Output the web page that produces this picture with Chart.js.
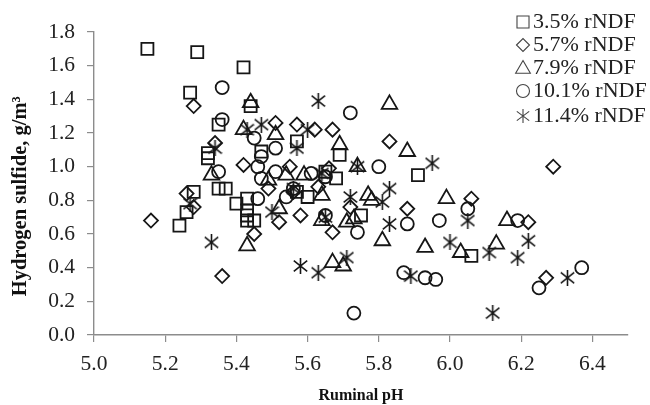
<!DOCTYPE html>
<html>
<head>
<meta charset="utf-8">
<style>
  html, body { margin: 0; background: #fff; }
</style>
<script src="https://cdn.jsdelivr.net/npm/chart.js@4/dist/chart.umd.js"></script>
</head>
<body>
<canvas id="chart" width="650" height="405"></canvas>
<script>
// values, as [ruminal pH] / [hydrogen sulfide]
const x_35 = [5.15,5.29,5.42,5.27,5.44,5.35,5.32,5.32,5.35,5.37,5.28,5.40,5.26,5.24,5.43,5.43,5.43,5.45,5.43,5.47,5.57,5.57,5.60,5.68,5.65,5.69,5.75,5.91,6.06];
const y_35 = [1.70,1.68,1.59,1.44,1.36,1.25,1.08,1.05,0.87,0.87,0.85,0.78,0.73,0.65,0.81,0.74,0.71,0.68,0.68,1.09,1.15,0.85,0.82,0.93,0.97,1.07,0.71,0.95,0.47];
const x_57 = [5.16,5.26,5.28,5.28,5.34,5.36,5.42,5.45,5.51,5.52,5.55,5.57,5.58,5.62,5.67,5.49,5.66,5.63,5.72,5.67,5.83,6.29,6.06,5.88,6.22,6.27,5.56];
const y_57 = [0.68,0.84,0.76,1.36,1.14,0.35,1.01,0.60,1.26,0.67,1.00,1.25,0.71,1.22,1.22,0.87,0.99,0.88,0.76,0.61,1.15,1.00,0.81,0.75,0.67,0.34,0.85];
const x_79 = [5.44,5.42,5.33,5.43,5.51,5.49,5.54,5.59,5.64,5.52,5.64,5.69,5.74,5.83,5.88,5.99,5.77,5.78,5.71,5.73,5.81,5.67,5.70,5.93,6.03,6.13,6.16];
const y_79 = [1.38,1.22,0.95,0.53,1.19,0.92,0.95,0.95,0.83,0.75,0.68,1.13,1.00,1.37,1.09,0.81,0.83,0.80,0.67,0.69,0.56,0.43,0.41,0.52,0.49,0.54,0.68];
const x_101 = [5.36,5.36,5.35,5.45,5.51,5.47,5.46,5.51,5.47,5.61,5.65,5.56,5.54,5.46,5.72,5.80,5.65,5.74,5.73,5.88,5.97,6.05,6.19,6.37,6.25,5.87,5.93,5.96];
const y_101 = [1.47,1.28,0.97,1.17,1.11,1.06,1.00,0.97,0.93,0.96,0.94,0.87,0.82,0.81,1.32,1.00,0.71,0.61,0.13,0.66,0.68,0.75,0.68,0.40,0.28,0.37,0.34,0.33];
const x_114 = [5.34,5.43,5.47,5.60,5.63,5.57,5.74,5.64,5.56,5.27,5.33,5.50,5.65,5.72,5.58,5.63,5.71,5.95,5.83,5.81,5.83,6.05,6.22,6.00,6.11,6.19,6.33,6.12,5.89];
const y_114 = [1.11,1.22,1.25,1.22,1.39,1.11,1.00,0.96,0.87,0.78,0.55,0.73,0.70,0.82,0.41,0.37,0.46,1.02,0.87,0.79,0.66,0.68,0.56,0.55,0.49,0.46,0.34,0.13,0.35];

const series_names = ['3.5% rNDF', '5.7% rNDF', '7.9% rNDF', '10.1% rNDF', '11.4% rNDF'];
const x_ticks = [5.0, 5.2, 5.4, 5.6, 5.8, 6.0, 6.2, 6.4];
const y_ticks = [0.0, 0.2, 0.4, 0.6, 0.8, 1.0, 1.2, 1.4, 1.6, 1.8];

const INK = '#161616';
const GREY = '#8c8c8c';
const SERIF = '"Liberation Serif", serif';

function pts(xs, ys){
  return xs.map((x, i) => ({ x: x, y: ys[i] }));
}

// six armed star like the excel marker, chart.js only has an eight armed one
function starSprite(w, h, lw, color){
  const c = document.createElement('canvas');
  c.width = w;
  c.height = h;
  const g = c.getContext('2d');
  g.strokeStyle = color;
  g.lineWidth = lw;
  g.beginPath();
  g.moveTo(w / 2, 0); g.lineTo(w / 2, h);
  g.moveTo(0.8, h * 0.17); g.lineTo(w - 0.8, h * 0.83);
  g.moveTo(w - 0.8, h * 0.17); g.lineTo(0.8, h * 0.83);
  g.stroke();
  return c;
}

function ds(label, data, style, r){
  return {
    label: label,
    data: data,
    showLine: false,
    pointStyle: style,
    pointRadius: r,
    pointHoverRadius: r,
    pointBorderColor: INK,
    pointBackgroundColor: 'transparent',
    pointBorderWidth: 1.8
  };
}

// legend sits above the plot area, so it is drawn here instead of with the built in box
const legendPlugin = {
  id: 'sideLegend',
  afterDraw(chart){
    const ctx = chart.ctx;
    const styles = [['rect', 8.5], ['rectRot', 6.5], ['triangle', 8.5], ['circle', 6.5], [starSprite(14, 14, 1.1, '#444'), 7]];
    const rows = [22, 45, 68, 91, 116];
    ctx.save();
    ctx.font = '22px ' + SERIF;
    ctx.textBaseline = 'middle';
    series_names.forEach((name, i) => {
      ctx.strokeStyle = '#444';
      ctx.fillStyle = 'transparent';
      ctx.lineWidth = 1.1;
      Chart.helpers.drawPoint(ctx, {
        pointStyle: styles[i][0],
        radius: styles[i][1],
        borderWidth: 1.1,
        rotation: 0
      }, 523, rows[i] + (i === 2 ? 1 : 0));
      ctx.fillStyle = '#222';
      ctx.fillText(name, 533, rows[i]);
    });
    ctx.restore();
  }
};

new Chart(document.getElementById('chart').getContext('2d'), {
  type: 'scatter',
  data: {
    datasets: [
      ds(series_names[0], pts(x_35, y_35), 'rect', 8.5),
      ds(series_names[1], pts(x_57, y_57), 'rectRot', 7),
      ds(series_names[2], pts(x_79, y_79), 'triangle', 9),
      ds(series_names[3], pts(x_101, y_101), 'circle', 6.5),
      ds(series_names[4], pts(x_114, y_114), starSprite(15, 16, 1.6, INK), 7)
    ]
  },
  options: {
    responsive: false,
    animation: false,
    devicePixelRatio: 1,
    layout: { padding: { left: 0, right: 22, top: 32, bottom: 0 } },
    plugins: { legend: { display: false }, tooltip: { enabled: false } },
    scales: {
      x: {
        type: 'linear',
        min: 5.0,
        max: 6.5,
        afterFit(s){ s.height = 70; },
        afterBuildTicks(s){ s.ticks = x_ticks.map(v => ({ value: v })); },
        border: { color: GREY, width: 1.4 },
        grid: { drawOnChartArea: false, color: GREY, tickLength: 7, lineWidth: 1.2 },
        ticks: {
          color: '#222',
          font: { family: SERIF, size: 21.5 },
          padding: 9,
          maxRotation: 0,
          autoSkip: false,
          callback: v => v.toFixed(1)
        },
        title: {
          display: true,
          text: 'Ruminal pH',
          color: '#111',
          font: { family: SERIF, size: 16, weight: 'bold' },
          padding: { top: 5, bottom: 0 }
        }
      },
      y: {
        type: 'linear',
        min: 0,
        max: 1.8,
        afterFit(s){ s.width = 94; },
        afterBuildTicks(s){ s.ticks = y_ticks.map(v => ({ value: v })); },
        border: { color: GREY, width: 1.4 },
        grid: { drawOnChartArea: false, color: GREY, tickLength: 7, lineWidth: 1.2 },
        ticks: {
          color: '#222',
          font: { family: SERIF, size: 21.5 },
          padding: 12,
          autoSkip: false,
          callback: v => v.toFixed(1)
        },
        title: {
          display: true,
          // trailing spaces push the rotated label down, it is not centred on the axis in the original
          text: 'Hydrogen sulfide, g/m\u00b3' + '\u00a0'.repeat(5),
          color: '#111',
          font: { family: SERIF, size: 20.5, weight: 'bold' },
          padding: { top: 8, bottom: 0 }
        }
      }
    }
  },
  plugins: [legendPlugin]
});
</script>
</body>
</html>
